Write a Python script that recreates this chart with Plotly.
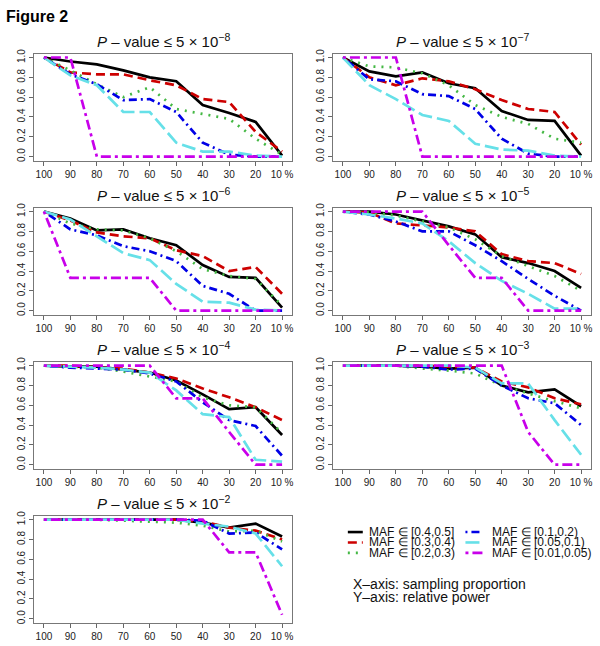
import plotly.graph_objects as go

# sampling proportion (%), same for every panel
sampling = [100, 90, 80, 70, 60, 50, 40, 30, 20, 10]
x_labels = ["100", "90", "80", "70", "60", "50", "40", "30", "20", "10 %"]
exponents = ["-8", "-7", "-6", "-5", "-4", "-3", "-2"]

# relative power, one row per panel (5e-8 ... 5e-2)
maf_04_05 = [
    [1.0, 0.96, 0.93, 0.87, 0.80, 0.76, 0.52, 0.44, 0.35, 0.01],
    [1.0, 0.86, 0.81, 0.85, 0.74, 0.69, 0.46, 0.37, 0.36, 0.01],
    [1.0, 0.93, 0.81, 0.82, 0.73, 0.66, 0.46, 0.34, 0.33, 0.03],
    [1.0, 1.0, 0.97, 0.91, 0.85, 0.77, 0.54, 0.48, 0.40, 0.23],
    [1.0, 0.99, 0.99, 0.96, 0.93, 0.85, 0.71, 0.56, 0.58, 0.30],
    [1.0, 1.0, 1.0, 0.99, 0.97, 0.98, 0.80, 0.73, 0.76, 0.59],
    [1.0, 1.0, 1.0, 1.0, 1.0, 1.0, 0.97, 0.92, 0.96, 0.83],
]
maf_03_04 = [
    [1.0, 0.85, 0.83, 0.83, 0.77, 0.72, 0.58, 0.55, 0.25, 0.05],
    [1.0, 0.80, 0.72, 0.79, 0.76, 0.68, 0.57, 0.48, 0.45, 0.12],
    [1.0, 0.91, 0.79, 0.75, 0.73, 0.61, 0.55, 0.40, 0.44, 0.17],
    [1.0, 0.99, 0.88, 0.86, 0.84, 0.80, 0.57, 0.50, 0.48, 0.37],
    [1.0, 1.0, 0.98, 0.97, 0.93, 0.87, 0.77, 0.68, 0.58, 0.45],
    [1.0, 1.0, 1.0, 1.0, 0.99, 0.98, 0.84, 0.78, 0.67, 0.61],
    [1.0, 1.0, 1.0, 1.0, 1.0, 1.0, 0.98, 0.92, 0.89, 0.80],
]
maf_02_03 = [
    [1.0, 0.87, 0.73, 0.60, 0.70, 0.48, 0.43, 0.38, 0.18, 0.02],
    [1.0, 0.91, 0.90, 0.84, 0.72, 0.52, 0.40, 0.33, 0.18, 0.14],
    [1.0, 0.88, 0.82, 0.81, 0.73, 0.60, 0.42, 0.35, 0.32, 0.05],
    [1.0, 0.99, 0.96, 0.90, 0.84, 0.72, 0.55, 0.45, 0.35, 0.20],
    [1.0, 0.99, 0.98, 0.94, 0.89, 0.84, 0.68, 0.60, 0.58, 0.32],
    [1.0, 1.0, 1.0, 0.97, 0.95, 0.92, 0.80, 0.72, 0.64, 0.57],
    [1.0, 1.0, 1.0, 0.99, 0.98, 0.97, 0.94, 0.88, 0.89, 0.78],
]
maf_01_02 = [
    [1.0, 0.83, 0.73, 0.57, 0.58, 0.45, 0.14, 0.02, 0.0, 0.0],
    [1.0, 0.78, 0.76, 0.63, 0.61, 0.48, 0.18, 0.03, 0.0, 0.0],
    [1.0, 0.82, 0.76, 0.65, 0.60, 0.50, 0.25, 0.17, 0.0, 0.0],
    [1.0, 0.97, 0.90, 0.80, 0.80, 0.66, 0.50, 0.32, 0.15, 0.0],
    [1.0, 0.98, 0.97, 0.96, 0.92, 0.84, 0.63, 0.45, 0.39, 0.09],
    [1.0, 1.0, 1.0, 0.99, 0.96, 0.97, 0.80, 0.67, 0.62, 0.40],
    [1.0, 1.0, 1.0, 1.0, 1.0, 1.0, 0.99, 0.86, 0.87, 0.70],
]
maf_005_01 = [
    [1.0, 0.82, 0.72, 0.45, 0.45, 0.14, 0.05, 0.05, 0.01, 0.0],
    [1.0, 0.72, 0.58, 0.42, 0.36, 0.13, 0.07, 0.06, 0.01, 0.0],
    [1.0, 0.92, 0.75, 0.58, 0.51, 0.27, 0.09, 0.08, 0.01, 0.0],
    [1.0, 0.97, 0.93, 0.88, 0.70, 0.48, 0.30, 0.17, 0.02, 0.02],
    [1.0, 0.99, 0.98, 0.96, 0.93, 0.75, 0.51, 0.48, 0.05, 0.03],
    [1.0, 1.0, 1.0, 1.0, 1.0, 0.98, 0.82, 0.82, 0.45, 0.10],
    [1.0, 1.0, 1.0, 1.0, 1.0, 1.0, 0.96, 0.93, 0.86, 0.53],
]
maf_001_005 = [
    [1.0, 1.0, 0.0, 0.0, 0.0, 0.0, 0.0, 0.0, 0.0, 0.0],
    [1.0, 1.0, 1.0, 0.0, 0.0, 0.0, 0.0, 0.0, 0.0, 0.0],
    [1.0, 0.33, 0.33, 0.33, 0.33, 0.0, 0.0, 0.0, 0.0, 0.0],
    [1.0, 1.0, 1.0, 1.0, 0.66, 0.33, 0.33, 0.0, 0.0, 0.0],
    [1.0, 1.0, 1.0, 1.0, 1.0, 0.67, 0.67, 0.33, 0.0, 0.0],
    [1.0, 1.0, 1.0, 1.0, 1.0, 1.0, 1.0, 0.33, 0.0, 0.0],
    [1.0, 1.0, 1.0, 1.0, 1.0, 1.0, 1.0, 0.67, 0.67, 0.04],
]

series = [
    ("MAF \u2208 [0.4,0.5]", maf_04_05, "#000000", "solid"),
    ("MAF \u2208 [0.3,0.4)", maf_03_04, "#CD0000", "9px,5px"),
    ("MAF \u2208 [0.2,0.3)", maf_02_03, "#44B844", "2px,6px"),
    ("MAF \u2208 [0.1,0.2)", maf_01_02, "#0000E6", "2px,4px,8px,4px"),
    ("MAF \u2208 [0.05,0.1)", maf_005_01, "#66E0E8", "14px,5px"),
    ("MAF \u2208 [0.01,0.05)", maf_001_005, "#C800EA", "3px,4px,10px,4px"),
]

W, H = 600, 646
fig = go.Figure()

def px_x(v):
    return v / W

def px_y(v):
    return 1 - v / H

font = "Liberation Sans, Arial, sans-serif"
layout = {}
annotations = []
for p, ex in enumerate(exponents):
    row, col = p // 2, p % 2
    left = 34.5 + 300 * col
    right = 292.6 + 300 * col
    top = 49 + 155.5 * row
    bottom = 157 + 155.5 * row
    n = "" if p == 0 else str(p + 1)
    layout["xaxis" + n] = dict(
        domain=[px_x(left), px_x(right)], anchor="y" + n,
        range=[103.6, 6.4], tickvals=sampling, ticktext=x_labels,
        ticks="outside", ticklen=4, tickcolor="#666", showline=True,
        linecolor="#777", linewidth=1, mirror=True, showgrid=False,
        zeroline=False, tickfont=dict(size=10, color="#222"),
    )
    layout["yaxis" + n] = dict(
        domain=[px_y(bottom), px_y(top)], anchor="x" + n,
        range=[-0.04, 1.04], tickvals=[0, 0.2, 0.4, 0.6, 0.8, 1.0],
        ticktext=["0.0", "0.2", "0.4", "0.6", "0.8", "1.0"], tickangle=-90,
        ticks="outside", ticklen=4, tickcolor="#666", showline=True,
        linecolor="#777", linewidth=1, mirror=True, showgrid=False,
        zeroline=False, tickfont=dict(size=10, color="#222"),
    )
    annotations.append(dict(
        x=px_x((left + right) / 2), y=px_y(top - 13), xref="paper", yref="paper",
        text="<i>P</i> \u2013 value \u2264 5 \u00d7 10<sup>\u2212" + ex[1:] + "</sup>",
        showarrow=False, xanchor="center", yanchor="middle",
        font=dict(size=15, color="#111"),
    ))
    for name, vals, color, dash in series:
        fig.add_trace(go.Scatter(
            x=sampling, y=vals[p], mode="lines", name=name,
            line=dict(color=color, width=2.7, dash=dash),
            xaxis="x" + n, yaxis="y" + n, showlegend=False,
        ))

# legend drawn by hand (two columns, tight rows)
shapes = []
for i, (name, vals, color, dash) in enumerate(series):
    c, r = i // 3, i % 3
    lx0 = [349, 467][c]
    lx1 = [364, 485][c]
    tx = [368, 492][c]
    ly = 532 + 10.5 * r
    shapes.append(dict(type="line", xref="paper", yref="paper",
                       x0=px_x(lx0), x1=px_x(lx1), y0=px_y(ly), y1=px_y(ly),
                       line=dict(color=color, width=2.6, dash=dash)))
    annotations.append(dict(
        x=px_x(tx), y=px_y(ly), xref="paper", yref="paper", text=name,
        showarrow=False, xanchor="left", yanchor="middle",
        font=dict(size=12, color="#111"),
    ))

annotations.append(dict(x=px_x(352), y=px_y(584), xref="paper", yref="paper",
                        text="X\u2013axis: sampling proportion", showarrow=False,
                        xanchor="left", yanchor="middle", font=dict(size=14, color="#111")))
annotations.append(dict(x=px_x(352), y=px_y(598), xref="paper", yref="paper",
                        text="Y\u2013axis: relative power", showarrow=False,
                        xanchor="left", yanchor="middle", font=dict(size=14, color="#111")))
annotations.append(dict(x=px_x(4), y=px_y(12), xref="paper", yref="paper",
                        text="<b>Figure 2</b>", showarrow=False,
                        xanchor="left", yanchor="middle", font=dict(size=16, color="#000")))

fig.update_layout(
    width=W, height=H, autosize=False,
    margin=dict(l=0, r=0, t=0, b=0),
    paper_bgcolor="white", plot_bgcolor="white",
    font=dict(family=font),
    annotations=annotations, shapes=shapes,
    **layout,
)

# drop the page's default body margin so the 600x646 figure fills the window
fig.write_html("out.html", config={"displayModeBar": False},
               post_script="document.body.style.margin='0';document.body.style.overflow='hidden';")
